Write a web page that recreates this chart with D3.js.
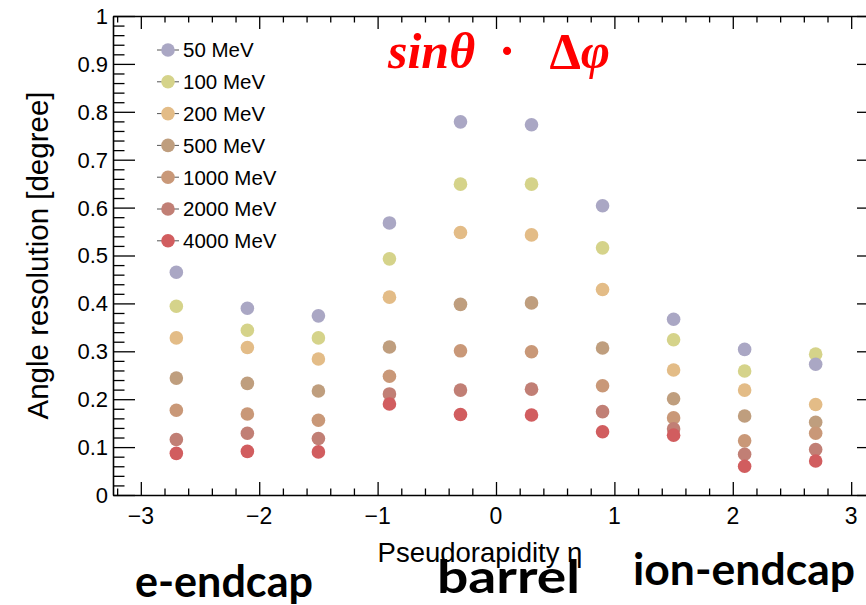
<!DOCTYPE html>
<html>
<head>
<meta charset="utf-8">
<script src="https://cdn.jsdelivr.net/npm/d3@7"></script>
<style>
  html, body { margin: 0; padding: 0; background: #fff; }
  svg { display: block; font-family: "Liberation Sans", Arial, Helvetica, sans-serif; }
</style>
</head>
<body>
<svg id="chart" width="866" height="605"></svg>
<script>
// Pseudorapidity bin centres
const etaBins = [-2.7, -2.1, -1.5, -0.9, -0.3, 0.3, 0.9, 1.5, 2.1, 2.7];

// Series labels and marker colours
const energies = ["50 MeV", "100 MeV", "200 MeV", "500 MeV", "1000 MeV", "2000 MeV", "4000 MeV"];
const colors = ["#aaa7c4", "#d5d38a", "#e3bc87", "#bf9e7e", "#c99878", "#c17f75", "#d15d5f"];

// Angle resolution sinθ·Δφ [degree] per energy, one value per eta bin
const res50   = [0.465, 0.390, 0.374, 0.568, 0.779, 0.773, 0.604, 0.367, 0.304, 0.273];
const res100  = [0.394, 0.344, 0.328, 0.493, 0.649, 0.649, 0.516, 0.324, 0.259, 0.294];
const res200  = [0.328, 0.308, 0.284, 0.413, 0.548, 0.543, 0.429, 0.261, 0.219, 0.189];
const res500  = [0.244, 0.233, 0.217, 0.309, 0.398, 0.401, 0.307, 0.201, 0.165, 0.152];
const res1000 = [0.177, 0.169, 0.156, 0.248, 0.301, 0.299, 0.228, 0.161, 0.113, 0.129];
const res2000 = [0.116, 0.129, 0.118, 0.211, 0.219, 0.221, 0.174, 0.138, 0.085, 0.095];
const res4000 = [0.087, 0.091, 0.090, 0.190, 0.168, 0.167, 0.132, 0.125, 0.060, 0.071];
const seriesValues = [res50, res100, res200, res500, res1000, res2000, res4000];

// Axis ticks and labels
const xMajor = [-3, -2, -1, 0, 1, 2, 3];
const yMajor = [0, 0.1, 0.2, 0.3, 0.4, 0.5, 0.6, 0.7, 0.8, 0.9, 1];
const yTickLabels = ["0", "0.1", "0.2", "0.3", "0.4", "0.5", "0.6", "0.7", "0.8", "0.9", "1"];
const regionLabels = ["e-endcap", "barrel", "ion-endcap"];

const svg = d3.select("#chart");
const pL = 113, pR = 879, pT = 16, pB = 495;

const x = d3.scaleLinear().domain([-3.235, 3.235]).range([pL, pR]);
const y = d3.scaleLinear().domain([0, 1]).range([pB, pT]);

const xMinor = d3.range(-3.2, 3.21, 0.2).map(v => +v.toFixed(2)).filter(v => !xMajor.some(m => Math.abs(m - v) < 1e-6));
const yMinor = d3.range(0, 1.001, 0.02).map(v => +v.toFixed(2)).filter(v => !yMajor.some(m => Math.abs(m - v) < 1e-6));

const xMajLen = 13, xMinLen = 6.5, yMajLen = 22, yMinLen = 11.5;

function styleAxis(g) {
  g.selectAll("path.domain").attr("stroke", "#000").attr("stroke-width", 1.6);
  g.selectAll(".tick line").attr("stroke", "#000").attr("stroke-width", 1.3);
}

function addAxis(axisFn, values, len, transform, withDomain) {
  const g = svg.append("g").attr("transform", transform)
    .call(axisFn.tickValues(values).tickSize(-len).tickSizeOuter(0).tickFormat(""));
  if (!withDomain) g.select("path.domain").remove();
  styleAxis(g);
  return g;
}

// Frame with inward ticks on all four sides
addAxis(d3.axisBottom(x), xMajor, xMajLen, `translate(0,${pB})`, true);
addAxis(d3.axisBottom(x), xMinor, xMinLen, `translate(0,${pB})`, false);
addAxis(d3.axisTop(x), xMajor, xMajLen, `translate(0,${pT})`, true);
addAxis(d3.axisTop(x), xMinor, xMinLen, `translate(0,${pT})`, false);
addAxis(d3.axisLeft(y), yMajor, yMajLen, `translate(${pL},0)`, true);
addAxis(d3.axisLeft(y), yMinor, yMinLen, `translate(${pL},0)`, false);
addAxis(d3.axisRight(y), yMajor, yMajLen, `translate(${pR},0)`, true);
addAxis(d3.axisRight(y), yMinor, yMinLen, `translate(${pR},0)`, false);

// x tick labels
svg.append("g").selectAll("text").data(xMajor).join("text")
  .attr("x", d => x(d)).attr("y", 524)
  .attr("text-anchor", "middle").attr("font-size", 23).attr("fill", "#000")
  .text(d => d3.format("d")(d));

// y tick labels
svg.append("g").selectAll("text").data(yMajor).join("text")
  .attr("x", pL - 5).attr("y", d => y(d)).attr("dy", "0.36em")
  .attr("text-anchor", "end").attr("font-size", 22).attr("fill", "#000")
  .text((d, i) => yTickLabels[i]);

// Axis titles
svg.append("text").attr("x", 480).attr("y", 562).attr("text-anchor", "middle")
  .attr("font-size", 27.5).attr("fill", "#000").text("Pseudorapidity η");
svg.append("text").attr("transform", `translate(48,${(pT + pB) / 2}) rotate(-90)`)
  .attr("text-anchor", "middle").attr("font-size", 29.5).attr("fill", "#000")
  .text("Angle resolution [degree]");

// Data points (lowest-energy series stacked on top)
const drawOrder = [1, 2, 3, 4, 5, 6, 0];
const pts = svg.append("g");
drawOrder.forEach(si => {
  pts.append("g").selectAll("circle").data(seriesValues[si]).join("circle")
    .attr("cx", (d, i) => x(etaBins[i])).attr("cy", d => y(d))
    .attr("r", 6.8).attr("fill", colors[si]);
});

// Legend
const lg = svg.append("g");
energies.forEach((name, i) => {
  const cy = 50 + i * 31.8;
  lg.append("line").attr("x1", 157).attr("x2", 179).attr("y1", cy).attr("y2", cy)
    .attr("stroke", "#555").attr("stroke-width", 1);
  lg.append("circle").attr("cx", 168).attr("cy", cy).attr("r", 6.8).attr("fill", colors[i]);
  lg.append("text").attr("x", 183).attr("y", cy).attr("dy", "0.36em")
    .attr("font-size", 20.5).attr("fill", "#000").text(name);
});

// Quantity label: sinθ · Δφ
const qg = svg.append("g").style("font-family", "'Liberation Serif', 'DejaVu Serif', serif")
  .attr("font-weight", "bold").attr("font-size", 50).attr("fill", "#ff0000");
qg.append("text").attr("x", 388).attr("y", 68).attr("font-style", "italic").text("sinθ");
qg.append("text").attr("x", 507).attr("y", 68).attr("text-anchor", "middle").text("·");
const dphi = qg.append("text").attr("x", 610).attr("y", 68).attr("text-anchor", "end");
dphi.append("tspan").text("Δ");
dphi.append("tspan").attr("font-style", "italic").text("φ");

// Detector region labels
const regionX = [135, 437, 633];
const regionY = [597, 593, 585];
const regionSize = [43.5, 45, 44.5];
const regionWidth = [178, 143, 222];
svg.append("g").selectAll("text").data(regionLabels).join("text")
  .attr("x", (d, i) => regionX[i]).attr("y", (d, i) => regionY[i])
  .attr("textLength", (d, i) => regionWidth[i]).attr("lengthAdjust", "spacingAndGlyphs")
  .style("font-family", "Lato, 'Open Sans', sans-serif").attr("font-weight", "bold")
  .attr("font-size", (d, i) => regionSize[i]).attr("fill", "#000").text(d => d);
</script>
</body>
</html>
